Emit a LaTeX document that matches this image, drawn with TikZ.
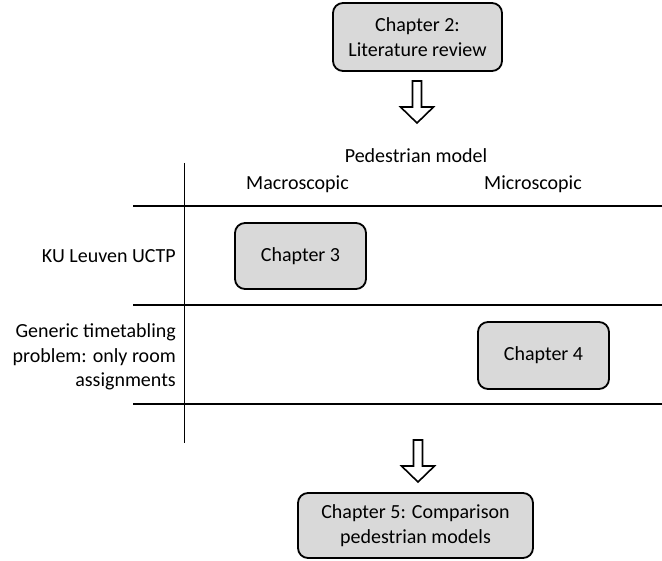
\documentclass[tikz,border=0pt]{standalone}
\usepackage{fontspec}
\setmainfont{Carlito}
\begin{document}
\begin{tikzpicture}[x=1pt,y=-1pt,
  chapter/.style={draw=black, line width=1.8pt, fill=boxgray, rounded corners=10pt,
    align=center, inner sep=0pt, font=\fontsize{20}{24.5}\selectfont},
  label/.style={inner sep=0pt, font=\fontsize{20}{24.5}\selectfont},
  rule/.style={draw=black, line width=1.8pt},
  blockarrow/.style={draw=black, line width=1.6pt, fill=white, line join=miter},
  pics/downarrow/.style={code={
    \draw[blockarrow] (-4.5,0) -- (4.5,0) -- (4.5,26) -- (16.5,26) -- (0,42)
      -- (-16.5,26) -- (-4.5,26) -- cycle;}}]
\definecolor{boxgray}{HTML}{D9D9D9}
\useasboundingbox (0,0) rectangle (662,561);

% chapter boxes
\node[chapter, minimum width=169pt, minimum height=68pt] (ch2) at (417.5,37) {Chapter 2:\\Literature review};
\node[chapter, minimum width=131pt, minimum height=66pt] (ch3) at (300.5,256) {Chapter 3};
\node[chapter, minimum width=131pt, minimum height=67pt] (ch4) at (543.5,355.5) {Chapter 4};
\node[chapter, minimum width=235pt, minimum height=65pt] (ch5) at (415.5,525.5) {Chapter 5: Comparison\\pedestrian models};

% block arrows between stages
\pic at (417,81) {downarrow};
\pic at (418,440) {downarrow};

% column headers
\node[label] (ped) at (416,156) {Pedestrian model};
\node[label] (macro) at (297.5,184) {Macroscopic};
\node[label] (micro) at (533,184) {Microscopic};

% row headers
\node[label, anchor=east] (kul) at (176,256) {KU Leuven UCTP};
\node[label, anchor=east, align=right] (gen) at (176,357) {Generic timetabling\\problem: only room\\assignments};

% grid lines
\coordinate (r1a) at (133,206); \coordinate (r1b) at (662,206);
\coordinate (r2a) at (133,305); \coordinate (r2b) at (662,305);
\coordinate (r3a) at (133,404); \coordinate (r3b) at (662,404);
\coordinate (vt) at (184.5,163); \coordinate (vb) at (184.5,443);
\draw[rule] (r1a) -- (r1b);
\draw[rule] (r2a) -- (r2b);
\draw[rule] (r3a) -- (r3b);
\draw[rule] (vt) -- (vb);
\end{tikzpicture}
\end{document}
